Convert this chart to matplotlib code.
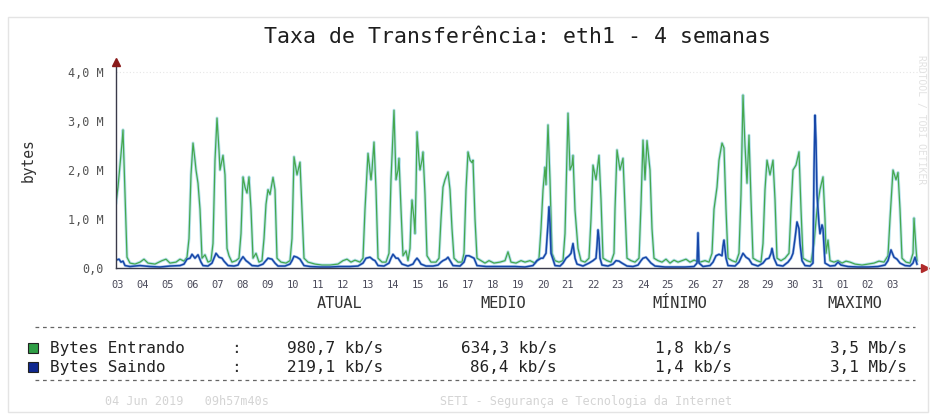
import matplotlib
matplotlib.use("Agg")
import matplotlib.pyplot as plt
from matplotlib.lines import Line2D
from matplotlib.patches import Rectangle

plt.rcParams['font.family'] = ['DejaVu Sans Mono', 'DejaVu Sans']

# ---------------- data (x in days since 03 May, values in M bytes) -------------
day_labels = ['03', '04', '05', '06', '07', '08', '09', '10', '11', '12', '13', '14',
              '15', '16', '17', '18', '19', '20', '21', '22', '23', '24', '25', '26',
              '27', '28', '29', '30', '31', '01', '02', '03']
y_ticks = [0, 1, 2, 3, 4]
y_labels = ['0,0', '1,0 M', '2,0 M', '3,0 M', '4,0 M']

in_t = [-0.08, 0.00, 0.08, 0.16, 0.20, 0.28, 0.36, 0.48, 0.68, 0.88, 1.04, 1.20, 1.48, 1.76,
        1.92, 2.08, 2.32, 2.48, 2.64, 2.76, 2.84, 2.92, 3.00, 3.08, 3.12, 3.20, 3.28, 3.36,
        3.48, 3.60, 3.72, 3.80, 3.88, 3.96, 4.04, 4.08, 4.16, 4.20, 4.28, 4.36, 4.44, 4.56,
        4.72, 4.84, 4.92, 5.00, 5.08, 5.16, 5.24, 5.32, 5.40, 5.52, 5.64, 5.76, 5.84, 5.92,
        6.00, 6.08, 6.20, 6.28, 6.36, 6.52, 6.72, 6.88, 6.96, 7.04, 7.16, 7.28, 7.36, 7.44,
        7.60, 7.88, 8.16, 8.48, 8.80, 9.00, 9.16, 9.32, 9.48, 9.68, 9.80, 9.88, 10.00, 10.12,
        10.16, 10.24, 10.32, 10.40, 10.56, 10.72, 10.84, 10.92, 11.04, 11.12, 11.20, 11.24,
        11.32, 11.40, 11.52, 11.60, 11.68, 11.72, 11.76, 11.84, 11.88, 11.92, 11.96, 12.04,
        12.08, 12.16, 12.20, 12.28, 12.36, 12.52, 12.72, 12.84, 12.92, 13.00, 13.08, 13.20,
        13.28, 13.36, 13.44, 13.60, 13.76, 13.84, 13.92, 14.00, 14.08, 14.16, 14.20, 14.28,
        14.36, 14.52, 14.68, 14.84, 15.04, 15.28, 15.48, 15.60, 15.72, 15.92, 16.12, 16.28,
        16.48, 16.68, 16.84, 16.92, 17.00, 17.08, 17.12, 17.20, 17.28, 17.36, 17.48, 17.64,
        17.80, 17.88, 18.00, 18.08, 18.16, 18.20, 18.28, 18.40, 18.52, 18.68, 18.84, 18.92,
        19.00, 19.12, 19.24, 19.32, 19.40, 19.56, 19.72, 19.84, 19.88, 19.96, 20.08, 20.20,
        20.28, 20.36, 20.52, 20.68, 20.84, 20.92, 21.00, 21.08, 21.16, 21.28, 21.36, 21.44,
        21.60, 21.76, 21.92, 22.08, 22.24, 22.40, 22.56, 22.72, 22.88, 23.04, 23.28, 23.48,
        23.64, 23.76, 23.84, 23.96, 24.04, 24.16, 24.24, 24.32, 24.40, 24.56, 24.72, 24.84,
        24.92, 25.00, 25.08, 25.16, 25.24, 25.32, 25.40, 25.56, 25.72, 25.80, 25.88, 25.96,
        26.08, 26.20, 26.28, 26.36, 26.52, 26.68, 26.84, 26.92, 27.00, 27.12, 27.24, 27.32,
        27.40, 27.56, 27.72, 27.84, 27.96, 28.08, 28.20, 28.28, 28.32, 28.40, 28.48, 28.64,
        28.80, 28.96, 29.12, 29.28, 29.48, 29.76, 30.00, 30.24, 30.44, 30.64, 30.80, 30.88,
        31.00, 31.12, 31.20, 31.28, 31.36, 31.52, 31.68, 31.80, 31.84, 31.92, 31.96]
in_v = [1.33, 1.65, 2.10, 2.55, 2.82, 1.50, 0.22, 0.10, 0.08, 0.12, 0.18, 0.10, 0.08, 0.15,
        0.18, 0.10, 0.12, 0.18, 0.14, 0.22, 0.60, 1.90, 2.55, 2.20, 2.00, 1.73, 1.20, 0.20,
        0.27, 0.12, 0.15, 0.50, 2.20, 3.06, 2.40, 2.00, 2.20, 2.30, 1.90, 0.40, 0.25, 0.12,
        0.15, 0.20, 0.70, 1.86, 1.65, 1.53, 1.86, 1.20, 0.20, 0.30, 0.12, 0.15, 0.60, 1.30,
        1.60, 1.50, 1.85, 1.60, 0.20, 0.12, 0.10, 0.15, 0.60, 2.27, 1.90, 2.16, 1.20, 0.20,
        0.12, 0.08, 0.06, 0.06, 0.08, 0.15, 0.18, 0.12, 0.16, 0.12, 0.20, 1.20, 2.34, 1.80,
        2.00, 2.57, 1.60, 0.20, 0.12, 0.12, 0.30, 1.80, 3.22, 1.80, 2.00, 2.24,
        1.20, 0.25, 0.35, 0.15, 0.40, 1.00, 1.39, 1.00, 0.70, 1.60, 2.78, 2.20,
        2.00, 2.20, 2.37, 1.50, 0.25, 0.12, 0.12, 0.20, 1.00, 1.65, 1.80, 1.96,
        1.60, 0.80, 0.20, 0.12, 0.12, 0.30, 1.60, 2.37, 2.20, 2.15, 2.20, 1.00,
        0.20, 0.15, 0.10, 0.15, 0.10, 0.12, 0.15, 0.33, 0.12, 0.10, 0.15, 0.12,
        0.15, 0.10, 0.20, 0.80, 1.59, 2.06, 1.70, 2.92, 1.80, 0.30, 0.15, 0.12,
        0.15, 0.70, 3.16, 2.00, 2.10, 2.30, 1.18, 0.40, 0.15, 0.12, 0.20, 1.00,
        2.10, 1.80, 2.30, 1.40, 0.20, 0.15, 0.12, 0.30, 1.20, 2.41, 2.00, 2.24,
        1.20, 0.20, 0.15, 0.12, 0.20, 1.30, 2.61, 1.80, 2.60, 2.00, 0.80, 0.20,
        0.15, 0.12, 0.18, 0.10, 0.16, 0.12, 0.15, 0.18, 0.12, 0.16, 0.12, 0.15,
        0.12, 0.30, 1.20, 1.65, 2.20, 2.55, 2.45, 1.20, 0.20, 0.15, 0.12, 0.30,
        1.50, 3.53, 2.50, 1.73, 2.71, 1.40, 0.20, 0.15, 0.12, 0.50, 1.60, 2.20,
        1.90, 2.20, 1.40, 0.20, 0.15, 0.20, 0.30, 1.20, 2.00, 2.10, 2.37, 1.20,
        0.20, 0.15, 0.12, 0.50, 1.20, 1.60, 1.86, 1.00, 0.30, 0.57, 0.15, 0.12,
        0.15, 0.10, 0.14, 0.12, 0.08, 0.06, 0.08, 0.10, 0.14, 0.12, 0.25, 1.00,
        2.00, 1.80, 1.95, 1.20, 0.20, 0.12, 0.10, 0.30, 1.02, 0.40, 0.15]

out_t = [-0.08, 0.04, 0.12, 0.20, 0.28, 0.48, 0.88, 1.28, 1.68, 2.08, 2.48, 2.64, 2.76, 2.88,
         2.96, 3.08, 3.20, 3.32, 3.40, 3.60, 3.76, 3.84, 3.92, 4.04, 4.16, 4.24, 4.40, 4.64,
         4.80, 4.88, 5.00, 5.12, 5.20, 5.36, 5.60, 5.80, 5.92, 6.00, 6.16, 6.28, 6.40, 6.68,
         6.88, 6.96, 7.04, 7.16, 7.28, 7.44, 7.68, 8.08, 8.48, 8.88, 9.28, 9.60, 9.80, 9.92,
         10.08, 10.20, 10.28, 10.40, 10.64, 10.84, 10.92, 11.00, 11.12, 11.20, 11.36, 11.60,
         11.80, 11.88, 11.96, 12.04, 12.12, 12.32, 12.60, 12.80, 12.92, 13.00, 13.12, 13.20,
         13.32, 13.40, 13.68, 13.84, 13.92, 14.04, 14.16, 14.24, 14.36, 14.72, 15.12, 15.48,
         15.88, 16.28, 16.60, 16.76, 16.92, 17.00, 17.12, 17.20, 17.24, 17.28, 17.32, 17.48,
         17.68, 17.80, 17.92, 18.04, 18.12, 18.20, 18.28, 18.36, 18.60, 18.84, 19.00, 19.12,
         19.16, 19.20, 19.24, 19.28, 19.36, 19.60, 19.80, 19.92, 20.04, 20.16, 20.36, 20.60,
         20.80, 20.92, 21.00, 21.12, 21.24, 21.32, 21.48, 21.88, 22.28, 22.68, 23.04, 23.16,
         23.20, 23.24, 23.40, 23.68, 23.80, 23.92, 24.04, 24.16, 24.20, 24.24, 24.32, 24.40,
         24.68, 24.84, 25.00, 25.12, 25.24, 25.36, 25.60, 25.80, 25.92, 26.04, 26.12, 26.16,
         26.24, 26.36, 26.60, 26.80, 26.92, 27.00, 27.08, 27.16, 27.24, 27.28, 27.36, 27.48,
         27.68, 27.80, 27.84, 27.88, 27.92, 27.96, 28.04, 28.08, 28.16, 28.20, 28.28, 28.48,
         28.68, 28.80, 28.92, 29.20, 29.60, 30.00, 30.40, 30.68, 30.80, 30.92, 31.04, 31.16,
         31.28, 31.48, 31.68, 31.80, 31.88, 31.96]
out_v = [0.16, 0.18, 0.12, 0.14, 0.05, 0.03, 0.05, 0.03, 0.02, 0.04, 0.05, 0.08, 0.18, 0.20,
         0.28, 0.20, 0.27, 0.12, 0.05, 0.04, 0.10, 0.20, 0.30, 0.22, 0.20, 0.14, 0.05, 0.04,
         0.06, 0.14, 0.23, 0.15, 0.12, 0.05, 0.04, 0.08, 0.15, 0.20, 0.18, 0.10, 0.04, 0.04,
         0.08, 0.15, 0.24, 0.22, 0.18, 0.05, 0.03, 0.02, 0.02, 0.03, 0.03, 0.04, 0.10, 0.20,
         0.22, 0.17, 0.15, 0.05, 0.04, 0.10, 0.20, 0.28, 0.20, 0.20, 0.08, 0.04,
         0.08, 0.15, 0.20, 0.15, 0.08, 0.04, 0.04, 0.06, 0.12, 0.15, 0.18, 0.22,
         0.12, 0.05, 0.04, 0.12, 0.25, 0.25, 0.22, 0.20, 0.05, 0.03, 0.03, 0.03,
         0.03, 0.02, 0.05, 0.15, 0.20, 0.20, 0.30, 0.90, 1.25, 0.90, 0.30, 0.05,
         0.04, 0.10, 0.20, 0.25, 0.30, 0.50, 0.20, 0.08, 0.04, 0.10, 0.15, 0.20,
         0.45, 0.78, 0.60, 0.20, 0.06, 0.04, 0.08, 0.15, 0.14, 0.10, 0.04, 0.03,
         0.06, 0.15, 0.20, 0.22, 0.15, 0.10, 0.04, 0.02, 0.02, 0.02, 0.03, 0.10,
         0.72, 0.10, 0.03, 0.05, 0.12, 0.25, 0.28, 0.25, 0.45, 0.57, 0.20, 0.05,
         0.04, 0.12, 0.30, 0.22, 0.18, 0.08, 0.04, 0.10, 0.18, 0.20, 0.30, 0.40,
         0.20, 0.06, 0.04, 0.12, 0.20, 0.30, 0.60, 0.94, 0.80, 0.50, 0.15, 0.05,
         0.04, 0.10, 2.00, 3.12, 2.60, 1.50, 0.90, 0.70, 0.88, 0.80, 0.10, 0.04,
         0.05, 0.12, 0.06, 0.03, 0.02, 0.02, 0.03, 0.06, 0.15, 0.37, 0.22, 0.18,
         0.10, 0.05, 0.04, 0.10, 0.22, 0.08]

col_headers = ['ATUAL', 'MEDIO', 'MÍNIMO', 'MAXIMO']
series_names = ['Bytes Entrando', 'Bytes Saindo']
stats_in = ['980,7 kb/s', '634,3 kb/s', '1,8 kb/s', '3,5 Mb/s']
stats_out = ['219,1 kb/s', '86,4 kb/s', '1,4 kb/s', '3,1 Mb/s']

W, H = 935, 419
fig = plt.figure(figsize=(W / 100, H / 100), dpi=100)
fig.patch.set_facecolor('white')

def fx(px):
    return px / W

def fy(py):
    return 1 - py / H

# faint outer frame
fig.add_artist(Rectangle((fx(8), fy(412)), fx(928) - fx(8), fy(17) - fy(412),
                         transform=fig.transFigure, fill=False, ec='#e4e4e4', lw=1))

ax = fig.add_axes([fx(116), fy(268), fx(925) - fx(116), fy(62) - fy(268)])
ax.set_facecolor('white')
ax.set_xlim(-0.08, 32.28)
ax.set_ylim(0, 4.204)

ax.axhline(4.0, color='#e6e6e6', lw=0.8, ls=(0, (1, 2)), zorder=0)

# incoming (green, with light cyan halo)
ax.plot(in_t, in_v, color='#a6dbe8', lw=2.2, alpha=0.8, zorder=2)
ax.plot(in_t, in_v, color='#45a84f', lw=0.9, zorder=3)
# outgoing (blue)
ax.plot(out_t, out_v, color='#6f9fe0', lw=2.0, alpha=0.6, zorder=4)
ax.plot(out_t, out_v, color='#1747a8', lw=1.1, zorder=5)

for s in ['top', 'right']:
    ax.spines[s].set_visible(False)
for s in ['left', 'bottom']:
    ax.spines[s].set_color('#3a3a4a')
    ax.spines[s].set_linewidth(1.0)
    ax.spines[s].set_zorder(6)

ax.plot([0], [1], marker='^', ms=6, color='#8a1a1a', transform=ax.transAxes,
        clip_on=False, zorder=7)
ax.plot([1], [0], marker='>', ms=6, color='#b02a2a', transform=ax.transAxes,
        clip_on=False, zorder=7)

ax.set_xticks(range(len(day_labels)))
ax.set_xticklabels(day_labels, fontsize=7.5, color='#4a4a5a')
ax.set_yticks(y_ticks)
ax.set_yticklabels(y_labels, fontsize=8.5, color='#555555')
ax.tick_params(axis='x', length=0, pad=9)
ax.tick_params(axis='y', length=0, pad=9)

# title and axis label
fig.text(fx(518), fy(37), 'Taxa de Transferência: eth1 - 4 semanas', ha='center',
         va='center', fontsize=15.5, color='#1e1e1e')
fig.text(fx(28), fy(160), 'bytes', rotation=90, ha='center', va='center',
         fontsize=10.5, color='#333333')

# right faint vertical credit
fig.text(fx(921), fy(120), 'RRDTOOL / TOBI OETIKER', rotation=270, ha='center',
         va='center', fontsize=7, color='#e2e2e2')

# column headers
for name, cx in zip(col_headers, [340, 503, 680, 855]):
    fig.text(fx(cx), fy(304), name, ha='center', va='center', fontsize=11, color='#333333')

# dashed separators
for yy in [327, 380]:
    fig.add_artist(Line2D([fx(35), fx(915)], [fy(yy), fy(yy)], transform=fig.transFigure,
                          color='#666666', lw=0.9, ls=(0, (3, 3))))

# legend rows
sq_colors = ['#2f9e45', '#10288f']
row_y = [348, 367]
value_right = [383, 557, 732, 907]
for name, col, ry, stats in zip(series_names, sq_colors, row_y, [stats_in, stats_out]):
    fig.add_artist(Rectangle((fx(28), fy(ry + 5)), fx(10), fy(0) - fy(10),
                             transform=fig.transFigure, fc=col, ec='#222222', lw=0.8))
    fig.text(fx(50), fy(ry), name, ha='left', va='center', fontsize=11.5, color='#222222')
    fig.text(fx(236), fy(ry), ':', ha='center', va='center', fontsize=11.5, color='#333333')
    for val, xr in zip(stats, value_right):
        fig.text(fx(xr), fy(ry), val, ha='right', va='center', fontsize=11.5, color='#222222')

# faint footer
fig.text(fx(105), fy(401), '04 Jun 2019   09h57m40s', ha='left', va='center',
         fontsize=8.5, color='#d4d4d4')
fig.text(fx(440), fy(401), 'SETI - Segurança e Tecnologia da Internet', ha='left',
         va='center', fontsize=8.5, color='#d4d4d4')

fig.savefig('out.png', dpi=100, facecolor='white')
